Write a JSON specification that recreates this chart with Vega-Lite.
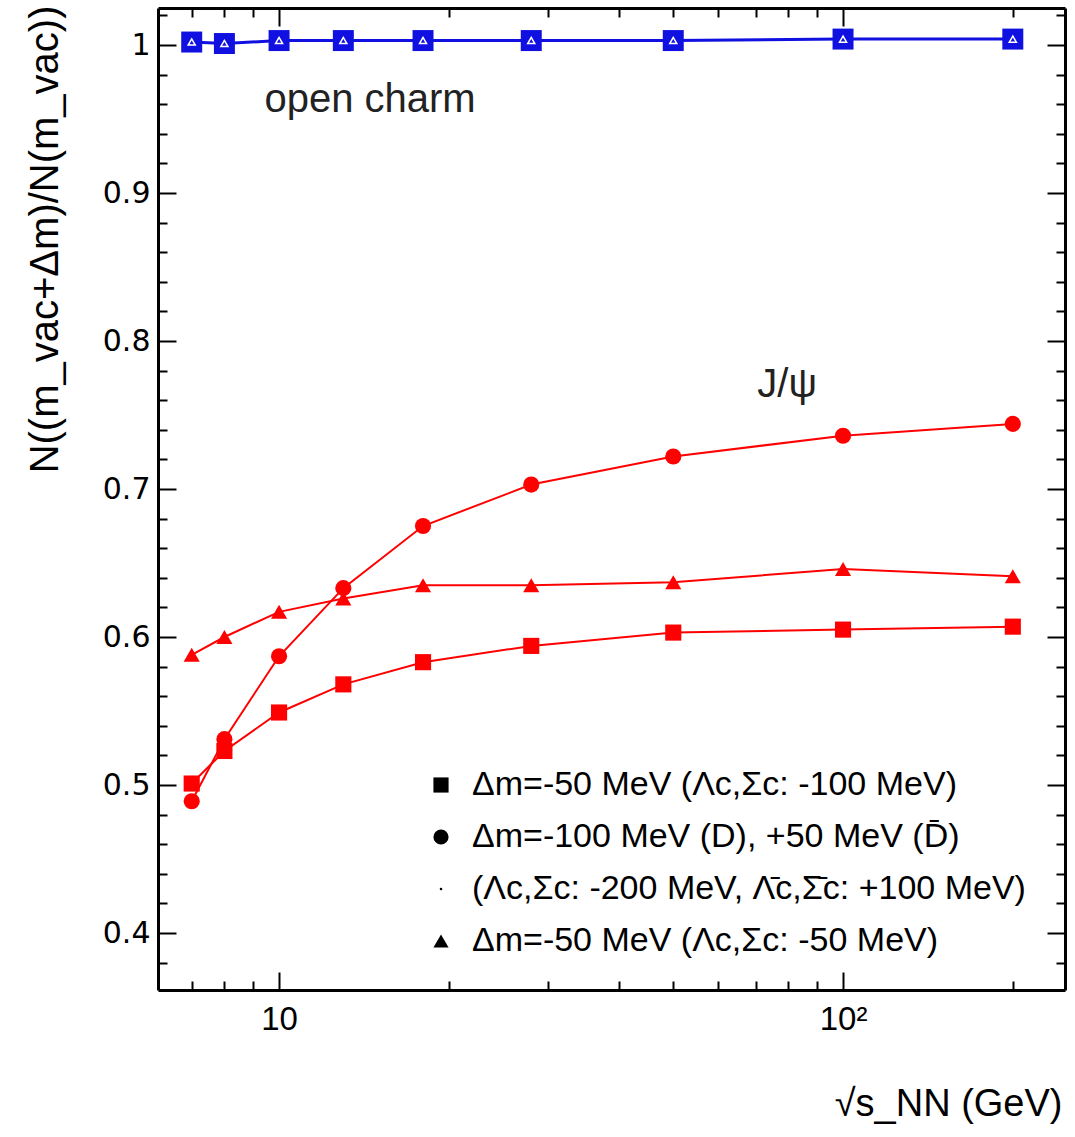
{
  "$schema": "https://vega.github.io/schema/vega-lite/v6.json",
  "width": 907,
  "height": 982,
  "autosize": {"type": "none"},
  "padding": {"left": 158, "top": 8, "right": 10, "bottom": 147},
  "background": "white",
  "config": {"view": {"stroke": null}, "font": "Liberation Sans"},
  "datasets": {
    "red": [
      {"x": 7, "y": 0.501, "series": "a"},
      {"x": 8, "y": 0.523, "series": "a"},
      {"x": 10, "y": 0.549, "series": "a"},
      {"x": 13, "y": 0.568, "series": "a"},
      {"x": 18, "y": 0.583, "series": "a"},
      {"x": 28, "y": 0.594, "series": "a"},
      {"x": 50, "y": 0.603, "series": "a"},
      {"x": 100, "y": 0.605, "series": "a"},
      {"x": 200, "y": 0.607, "series": "a"},
      {"x": 7, "y": 0.489, "series": "b"},
      {"x": 8, "y": 0.531, "series": "b"},
      {"x": 10, "y": 0.587, "series": "b"},
      {"x": 13, "y": 0.633, "series": "b"},
      {"x": 18, "y": 0.675, "series": "b"},
      {"x": 28, "y": 0.703, "series": "b"},
      {"x": 50, "y": 0.722, "series": "b"},
      {"x": 100, "y": 0.736, "series": "b"},
      {"x": 200, "y": 0.744, "series": "b"},
      {"x": 7, "y": 0.588, "series": "d"},
      {"x": 8, "y": 0.600, "series": "d"},
      {"x": 10, "y": 0.617, "series": "d"},
      {"x": 13, "y": 0.626, "series": "d"},
      {"x": 18, "y": 0.635, "series": "d"},
      {"x": 28, "y": 0.635, "series": "d"},
      {"x": 50, "y": 0.637, "series": "d"},
      {"x": 100, "y": 0.646, "series": "d"},
      {"x": 200, "y": 0.641, "series": "d"}
    ],
    "blue": [
      {"x": 7, "y": 1.002},
      {"x": 8, "y": 1.001},
      {"x": 10, "y": 1.003},
      {"x": 13, "y": 1.003},
      {"x": 18, "y": 1.003},
      {"x": 28, "y": 1.003},
      {"x": 50, "y": 1.003},
      {"x": 100, "y": 1.004},
      {"x": 200, "y": 1.004}
    ],
    "notes": [
      {"x": 14.5, "y": 0.963, "label": "open charm"},
      {"x": 79.6, "y": 0.770, "label": "J/ψ"}
    ]
  },
  "resolve": {"axis": {"x": "independent", "y": "independent"}, "legend": {"shape": "independent"}},
  "layer": [
    {
      "data": {"name": "red"},
      "mark": {"type": "line", "color": "#ff0000", "strokeWidth": 2},
      "encoding": {
        "x": {
          "field": "x", "type": "quantitative",
          "scale": {"type": "log", "domain": [6.1, 247.5], "nice": false},
          "axis": {
            "orient": "bottom", "values": [10, 100],
            "labelExpr": "datum.value == 100 ? '10²' : '10'",
            "tickSize": -18, "tickWidth": 2, "tickColor": "black",
            "domainColor": "black", "domainWidth": 3, "grid": false,
            "labelFont": "Liberation Sans", "labelFontSize": 33, "labelColor": "black",
            "labelPadding": 31,
            "title": "√s_NN (GeV)", "titleFont": "Liberation Sans", "titleFontSize": 38,
            "titleFontWeight": "normal", "titleColor": "black",
            "titleAlign": "right", "titleAnchor": "end", "titleX": 904, "titleY": 125, "titleBaseline": "alphabetic"
          }
        },
        "y": {
          "field": "y", "type": "quantitative",
          "scale": {"domain": [0.3615, 1.025], "nice": false, "zero": false},
          "axis": {
            "orient": "left", "values": [0.4, 0.5, 0.6, 0.7, 0.8, 0.9, 1],
            "labelExpr": "datum.value == 1 ? '1' : format(datum.value, '.1f')",
            "tickSize": -18, "tickWidth": 2, "tickColor": "black",
            "domainColor": "black", "domainWidth": 3, "grid": false,
            "labelFont": "DejaVu Sans", "labelFontSize": 30, "labelColor": "black",
            "labelPadding": 26,
            "title": "N((m_vac+Δm)/N(m_vac))", "titleFont": "Liberation Sans", "titleFontSize": 40,
            "titleFontWeight": "normal", "titleColor": "black",
            "titleAngle": -90, "titleAlign": "right", "titleBaseline": "middle",
            "titleX": -113, "titleY": -3
          }
        },
        "detail": {"field": "series", "type": "nominal"}
      }
    },
    {
      "data": {"name": "red"},
      "mark": {"type": "point", "filled": true, "color": "#ff0000", "opacity": 1, "size": 260},
      "encoding": {
        "x": {
          "field": "x", "type": "quantitative",
          "scale": {"type": "log", "domain": [6.1, 247.5], "nice": false},
          "axis": {"orient": "top", "values": [10, 100], "labels": false, "tickSize": -18, "tickWidth": 2,
                   "tickColor": "black", "domainColor": "black", "domainWidth": 3, "grid": false, "title": null}
        },
        "y": {
          "field": "y", "type": "quantitative",
          "scale": {"domain": [0.3615, 1.025], "nice": false, "zero": false},
          "axis": {"orient": "right", "values": [0.4, 0.5, 0.6, 0.7, 0.8, 0.9, 1], "labels": false, "tickSize": -18, "tickWidth": 2,
                   "tickColor": "black", "domainColor": "black", "domainWidth": 3, "grid": false, "title": null}
        },
        "shape": {
          "field": "series", "type": "nominal",
          "scale": {"domain": ["a", "b", "c", "d"], "range": ["square", "circle", "M-0.15,-0.15H0.15V0.15H-0.15Z", "triangle-up"]},
          "legend": null
        }
      }
    },
    {
      "data": {"name": "red"},
      "transform": [{"filter": "datum.x < 0"}],
      "mark": {"type": "point", "filled": true, "color": "black", "opacity": 1, "size": 230},
      "encoding": {
        "x": {"field": "x", "type": "quantitative", "scale": {"type": "log", "domain": [6.1, 247.5], "nice": false}, "axis": null},
        "y": {"field": "y", "type": "quantitative", "scale": {"domain": [0.3615, 1.025], "nice": false, "zero": false}, "axis": null},
        "shape": {
          "field": "series", "type": "nominal",
          "scale": {"domain": ["a", "b", "c", "d"], "range": ["square", "circle", "M-0.15,-0.15H0.15V0.15H-0.15Z", "triangle-up"]},
          "legend": {
            "orient": "none", "legendX": 266, "legendY": 760, "title": null,
            "padding": 0, "rowPadding": 18, "labelOffset": 14,
            "labelFont": "Liberation Sans", "labelFontSize": 34, "labelColor": "black", "labelLimit": 1000,
            "symbolSize": 230, "symbolFillColor": "black", "symbolStrokeColor": "black",
            "labelExpr": "datum.value == 'a' ? 'Δm=-50 MeV (Λc,Σc: -100 MeV)' : datum.value == 'b' ? 'Δm=-100 MeV (D), +50 MeV (D\u0304)' : datum.value == 'c' ? '(Λc,Σc: -200 MeV, Λ\u0304c,Σ\u0304c: +100 MeV)' : 'Δm=-50 MeV (Λc,Σc: -50 MeV)'"
          }
        }
      }
    },
    {
      "data": {"name": "blue"},
      "mark": {"type": "line", "color": "#1010e0", "strokeWidth": 3},
      "encoding": {
        "x": {
          "field": "x", "type": "quantitative",
          "scale": {"type": "log", "domain": [6.1, 247.5], "nice": false},
          "axis": {"orient": "bottom", "values": [7, 8, 9, 20, 30, 40, 50, 60, 70, 80, 90, 200], "labels": false,
                   "tickSize": -9, "tickWidth": 2, "tickColor": "black", "domain": false, "grid": false, "title": null}
        },
        "y": {
          "field": "y", "type": "quantitative",
          "scale": {"domain": [0.3615, 1.025], "nice": false, "zero": false},
          "axis": {"orient": "left", "values": [0.38, 0.42, 0.44, 0.46, 0.48, 0.52, 0.54, 0.56, 0.58, 0.62, 0.64, 0.66, 0.68, 0.72, 0.74, 0.76, 0.78, 0.82, 0.84, 0.86, 0.88, 0.92, 0.94, 0.96, 0.98, 1.02],
                   "labels": false, "tickSize": -9, "tickWidth": 2, "tickColor": "black", "domain": false, "grid": false, "title": null}
        }
      }
    },
    {
      "data": {"name": "blue"},
      "mark": {"type": "point", "shape": "square", "filled": true, "color": "#1010e0", "opacity": 1, "size": 440},
      "encoding": {
        "x": {
          "field": "x", "type": "quantitative",
          "scale": {"type": "log", "domain": [6.1, 247.5], "nice": false},
          "axis": {"orient": "top", "values": [7, 8, 9, 20, 30, 40, 50, 60, 70, 80, 90, 200], "labels": false,
                   "tickSize": -9, "tickWidth": 2, "tickColor": "black", "domain": false, "grid": false, "title": null}
        },
        "y": {
          "field": "y", "type": "quantitative",
          "scale": {"domain": [0.3615, 1.025], "nice": false, "zero": false},
          "axis": {"orient": "right", "values": [0.38, 0.42, 0.44, 0.46, 0.48, 0.52, 0.54, 0.56, 0.58, 0.62, 0.64, 0.66, 0.68, 0.72, 0.74, 0.76, 0.78, 0.82, 0.84, 0.86, 0.88, 0.92, 0.94, 0.96, 0.98, 1.02],
                   "labels": false, "tickSize": -9, "tickWidth": 2, "tickColor": "black", "domain": false, "grid": false, "title": null}
        }
      }
    },
    {
      "data": {"name": "blue"},
      "mark": {"type": "point", "shape": "triangle-up", "filled": false, "color": "white", "strokeWidth": 1.5, "opacity": 1, "size": 50},
      "encoding": {
        "x": {"field": "x", "type": "quantitative", "scale": {"type": "log", "domain": [6.1, 247.5], "nice": false}, "axis": null},
        "y": {"field": "y", "type": "quantitative", "scale": {"domain": [0.3615, 1.025], "nice": false, "zero": false}, "axis": null}
      }
    },
    {
      "data": {"name": "notes"},
      "mark": {"type": "text", "font": "Liberation Sans", "fontSize": 40, "color": "#222222", "align": "center", "baseline": "middle"},
      "encoding": {
        "x": {"field": "x", "type": "quantitative", "scale": {"type": "log", "domain": [6.1, 247.5], "nice": false}, "axis": null},
        "y": {"field": "y", "type": "quantitative", "scale": {"domain": [0.3615, 1.025], "nice": false, "zero": false}, "axis": null},
        "text": {"field": "label", "type": "nominal"}
      }
    }
  ]
}
